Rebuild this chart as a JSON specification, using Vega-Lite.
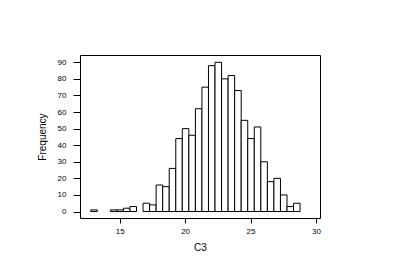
{
  "$schema": "https://vega.github.io/schema/vega-lite/v6.json",
  "width": 240,
  "height": 163,
  "autosize": {"type": "none"},
  "padding": {"left": 80, "top": 55, "right": 78, "bottom": 54},
  "background": "white",
  "config": {
    "font": "Liberation Sans",
    "view": {"stroke": "black", "strokeWidth": 1},
    "axis": {
      "domain": false,
      "grid": false,
      "tickColor": "black",
      "labelColor": "black",
      "titleColor": "black",
      "titleFontWeight": "normal",
      "labelFontSize": 8,
      "titleFontSize": 10
    }
  },
  "data": {
    "values": [
      {"start": 12.75, "end": 13.25, "count": 1},
      {"start": 14.25, "end": 14.75, "count": 1},
      {"start": 14.75, "end": 15.25, "count": 1},
      {"start": 15.25, "end": 15.75, "count": 2},
      {"start": 15.75, "end": 16.25, "count": 3},
      {"start": 16.75, "end": 17.25, "count": 5},
      {"start": 17.25, "end": 17.75, "count": 4},
      {"start": 17.75, "end": 18.25, "count": 16},
      {"start": 18.25, "end": 18.75, "count": 15},
      {"start": 18.75, "end": 19.25, "count": 26},
      {"start": 19.25, "end": 19.75, "count": 44},
      {"start": 19.75, "end": 20.25, "count": 50},
      {"start": 20.25, "end": 20.75, "count": 46},
      {"start": 20.75, "end": 21.25, "count": 62},
      {"start": 21.25, "end": 21.75, "count": 75},
      {"start": 21.75, "end": 22.25, "count": 88},
      {"start": 22.25, "end": 22.75, "count": 90},
      {"start": 22.75, "end": 23.25, "count": 80},
      {"start": 23.25, "end": 23.75, "count": 82},
      {"start": 23.75, "end": 24.25, "count": 73},
      {"start": 24.25, "end": 24.75, "count": 55},
      {"start": 24.75, "end": 25.25, "count": 44},
      {"start": 25.25, "end": 25.75, "count": 51},
      {"start": 25.75, "end": 26.25, "count": 30},
      {"start": 26.25, "end": 26.75, "count": 18},
      {"start": 26.75, "end": 27.25, "count": 20},
      {"start": 27.25, "end": 27.75, "count": 10},
      {"start": 27.75, "end": 28.25, "count": 3},
      {"start": 28.25, "end": 28.75, "count": 5}
    ]
  },
  "mark": {"type": "bar", "fill": "white", "stroke": "black", "strokeWidth": 1, "binSpacing": 0},
  "encoding": {
    "x": {
      "field": "start",
      "type": "quantitative",
      "bin": {"binned": true},
      "scale": {"domain": [11.97, 30.31], "nice": false, "zero": false},
      "axis": {"title": "C3", "values": [15, 20, 25, 30], "tickSize": 5, "labelPadding": 4, "titlePadding": 7, "labelFlush": false}
    },
    "x2": {"field": "end"},
    "y": {
      "field": "count",
      "type": "quantitative",
      "scale": {"domain": [-3.9, 94.4], "nice": false, "zero": false},
      "axis": {"title": "Frequency", "values": [0, 10, 20, 30, 40, 50, 60, 70, 80, 90], "tickSize": 7, "labelPadding": 7, "titlePadding": 10, "labelFlush": false}
    },
    "y2": {"datum": 0}
  }
}
